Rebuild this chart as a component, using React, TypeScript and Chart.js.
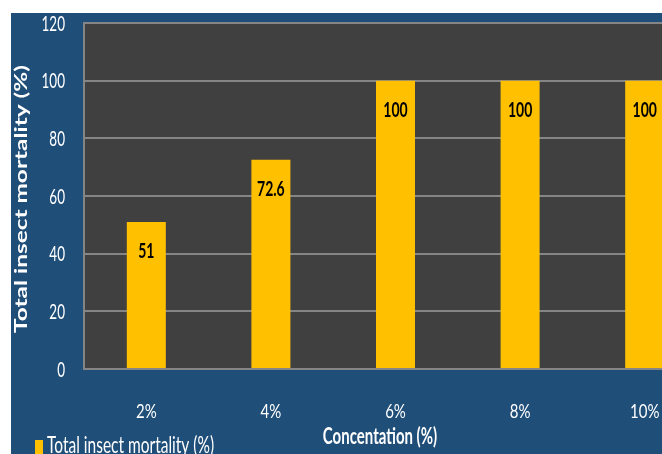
import React, { useEffect, useRef } from "react";
import { Chart, registerables } from "chart.js";

Chart.register(...registerables);

const categories: string[] = ["2%", "4%", "6%", "8%", "10%"];
const mortality: number[] = [51, 72.6, 100, 100, 100];
const dataLabels: string[] = ["51", "72.6", "100", "100", "100"];
const yMin = 0;
const yMax = 120;
const yStep = 20;
const seriesName = "Total insect mortality (%)";
const xTitle = "Concentation (%)";
const yTitle = "Total insect mortality (%)";

const BLUE = "#1F4E79";
const PLOT = "#404040";
const GRID = "#858585";
const YELLOW = "#FFC000";
const FONT = "Lato, 'Open Sans', sans-serif";

function txt(
  ctx: CanvasRenderingContext2D,
  s: string,
  x: number,
  y: number,
  size: number,
  weight: string,
  color: string,
  align: CanvasTextAlign,
  sy: number
) {
  ctx.save();
  ctx.translate(x, y);
  ctx.scale(1, sy);
  ctx.font = `${weight} ${size}px ${FONT}`;
  ctx.fillStyle = color;
  ctx.textAlign = align;
  ctx.textBaseline = "alphabetic";
  ctx.fillText(s, 0, 0);
  ctx.restore();
}

const decor = {
  id: "decor",
  beforeDraw(chart: any) {
    const { ctx, chartArea, width, height } = chart;
    ctx.save();
    ctx.fillStyle = BLUE;
    ctx.fillRect(0, 0, width, height);
    ctx.fillStyle = PLOT;
    ctx.fillRect(chartArea.left, chartArea.top, chartArea.right - chartArea.left, chartArea.bottom - chartArea.top);
    ctx.restore();
  },
  afterDraw(chart: any) {
    const ctx: CanvasRenderingContext2D = chart.ctx;
    const xs = chart.scales.x;
    const ys = chart.scales.y;
    // y tick labels
    ys.ticks.forEach((t: any) => {
      const py = ys.getPixelForValue(t.value);
      txt(ctx, String(t.value), 54, py + 7.5, 13.5, "normal", "#ffffff", "right", 1.6);
    });
    // x tick labels
    categories.forEach((c, i) => {
      const px = xs.getPixelForValue(i);
      txt(ctx, c, px, 404.5, 15, "normal", "#ffffff", "center", 1.3);
    });
    // data labels
    const meta = chart.getDatasetMeta(0);
    meta.data.forEach((bar: any, i: number) => {
      txt(ctx, dataLabels[i], bar.x, bar.y + 36.5, 14, "bold", "#000000", "center", 1.5);
    });
    // x title
    txt(ctx, xTitle, 369, 431, 15, "bold", "#ffffff", "center", 1.58);
    // legend
    ctx.save();
    ctx.fillStyle = YELLOW;
    ctx.fillRect(24, 427, 8, 14);
    ctx.restore();
    txt(ctx, seriesName, 36, 440, 15.5, "normal", "#ffffff", "left", 1.5);
    // y title
    ctx.save();
    ctx.translate(16, 186);
    ctx.rotate(-Math.PI / 2);
    ctx.font = `bold 16.5px ${FONT}`;
    const w = ctx.measureText(yTitle).width;
    ctx.scale(268 / w, 1);
    ctx.fillStyle = "#ffffff";
    ctx.textAlign = "center";
    ctx.textBaseline = "alphabetic";
    ctx.fillText(yTitle, 0, 0);
    ctx.restore();
  },
};

export default function App() {
  const ref = useRef<HTMLCanvasElement | null>(null);
  useEffect(() => {
    if (!ref.current) return;
    const chart = new Chart(ref.current, {
      type: "bar",
      data: {
        labels: categories,
        datasets: [
          {
            label: seriesName,
            data: mortality,
            backgroundColor: YELLOW,
            borderWidth: 0,
            barPercentage: 0.313,
            categoryPercentage: 1,
          },
        ],
      },
      options: {
        responsive: false,
        devicePixelRatio: 1,
        animation: false,
        layout: { padding: { top: 10, right: 24, left: 0, bottom: 0 } },
        plugins: { legend: { display: false }, tooltip: { enabled: false } },
        scales: {
          x: {
            grid: { display: false, drawTicks: false },
            border: { display: true, color: GRID, width: 2 },
            ticks: { display: false },
            afterFit: (s: any) => {
              s.height = 85;
            },
          },
          y: {
            min: yMin,
            max: yMax,
            ticks: { display: false, stepSize: yStep },
            grid: { color: GRID, lineWidth: 2, drawTicks: false },
            border: { display: true, color: GRID, width: 2 },
            afterFit: (s: any) => {
              s.width = 73;
            },
          },
        },
      },
      plugins: [decor],
    });
    return () => chart.destroy();
  }, []);
  return (
    <div style={{ position: "fixed", left: 0, top: 0, width: 662, height: 454, overflow: "hidden", background: "#ffffff" }}>
      <div style={{ position: "absolute", left: 11, top: 13, width: 720, height: 441 }}>
        <canvas ref={ref} width={720} height={441} style={{ display: "block", width: 720, height: 441 }} />
      </div>
    </div>
  );
}
